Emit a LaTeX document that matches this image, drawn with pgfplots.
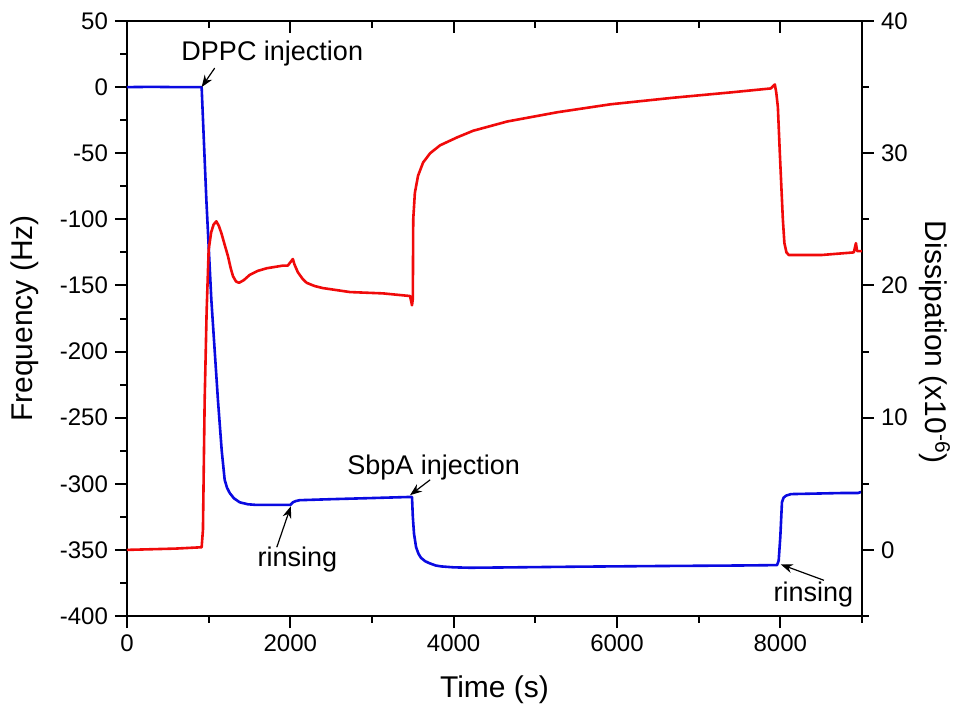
\documentclass[border=0pt]{standalone}
\usepackage{fontspec}
\setmainfont{Liberation Sans}
\usepackage{pgfplots}
\pgfplotsset{compat=1.18}
\usetikzlibrary{arrows.meta}
\definecolor{qblue}{RGB}{10,10,225}
\definecolor{qred}{RGB}{240,10,10}
\pgfplotsset{
  common/.style={
    width=367.5pt, height=297.5pt, scale only axis,
    at={(0,0)}, anchor=south west,
    xmin=0, xmax=9000,
    xtick={0,2000,4000,6000,8000},
    minor xtick={1000,3000,5000,7000,9000},
    tick label style={font=\fontsize{12}{14}\selectfont},
    /pgf/number format/assume math mode=true,
    /pgf/number format/1000 sep={},
    major tick length=6pt, minor tick length=3.3pt,
    tick style={black, line width=1pt},
    axis line style={line width=1.1pt},
    clip=false,
  }
}
\begin{document}
\begin{tikzpicture}
% left axis: frequency (blue)
\begin{axis}[common,
  axis x line*=bottom, axis y line*=left, tick align=outside,
  ymin=-400, ymax=50, ytick={-400,-350,...,50}, minor y tick num=1,
  xlabel={Time (s)}, ylabel={Frequency (Hz)},
  every axis x label/.style={at={(axis description cs:0.5,-0.124)}, anchor=center, font=\fontsize{15}{18}\selectfont},
  every axis y label/.style={at={(axis description cs:-0.139,0.5)}, rotate=90, anchor=center, font=\fontsize{15}{18}\selectfont},
]
\addplot[qblue, line width=1.3pt, line join=round] coordinates {
(0,0) (300,0.2) (600,0) (914,0) (943,-43) (972,-85.6) (1033,-161) (1114,-237)
(1160,-275) (1196,-297) (1225,-303) (1258,-307) (1310,-311) (1380,-314) (1480,-315.5) (1589,-316) (1957,-316) (2000,-316)
(2031,-314) (2070,-313) (2117,-312.4) (2524,-311.6) (2938,-310.9) (3442,-310) (3490,-310)
(3500,-325) (3515,-338) (3540,-348) (3570,-353) (3600,-356) (3650,-358.5) (3700,-360) (3780,-361.8) (3850,-362.5) (4000,-363.2) (4200,-363.5)
(4571,-363.3) (5500,-362.7) (6500,-362.2) (7500,-361.8) (7960,-361.5) (7980,-358)
(8000,-340) (8020,-314) (8040,-310.5) (8070,-309) (8129,-307.8) (8742,-307) (8950,-307) (9000,-306)
};
\tikzset{ann/.style={font=\fontsize{13.5}{16}\selectfont, inner sep=0pt},
         arr/.style={-{Stealth[length=6pt,width=4.5pt]}, line width=0.6pt, black}}
\node[ann, anchor=base] at (axis cs:1779,20) {DPPC injection};
\draw[arr] (axis cs:1074,14.4) -- (axis cs:914,0);
\node[ann, anchor=base] at (axis cs:2086,-362.3) {rinsing};
\draw[arr] (axis cs:1834,-348) -- (axis cs:2006,-317);
\node[ann, anchor=base] at (axis cs:3755,-292.7) {SbpA injection};
\draw[arr] (axis cs:3712,-297) -- (axis cs:3466,-308.6);
\node[ann, anchor=base] at (axis cs:8405,-389.3) {rinsing};
\draw[arr] (axis cs:8534,-373) -- (axis cs:8006,-361);
\end{axis}
% right axis: dissipation (red)
\begin{axis}[common,
  axis x line=none, axis y line*=right, tick align=outside,
  ymin=-5, ymax=40, ytick={0,10,20,30,40}, minor ytick={-5,5,15,25,35},
  ylabel={Dissipation (x10\textsuperscript{-6})},
  every axis y label/.style={at={(axis description cs:1.0986,0.46)}, rotate=-90, anchor=center, font=\fontsize{15}{18}\selectfont},
]
\addplot[qred, line width=1.3pt, line join=round] coordinates {
(0,0.0) (300,0.05) (600,0.1) (914,0.2) (930,1.5) (951,11.3) (975,18) (1000,22.7)
(1030,24.0) (1060,24.6) (1094,24.85) (1125,24.5) (1156,23.95) (1195,23.1) (1237,22.2) (1270,21.3) (1298,20.7) (1335,20.3) (1372,20.2) (1430,20.4)
(1503,20.8) (1600,21.1) (1711,21.3) (1908,21.5) (1969,21.5) (2031,22.0) (2050,21.6)
(2092,21.0) (2150,20.5) (2200,20.2) (2300,19.95) (2400,19.8) (2730,19.5) (3135,19.4)
(3466,19.2) (3490,18.5) (3500,19.0) (3505,25.0) (3525,27.0) (3564,28.3) (3626,29.3)
(3712,30.0) (3834,30.6) (4043,31.2) (4239,31.7) (4656,32.4) (5270,33.1) (5920,33.7)
(6693,34.2) (7393,34.6) (7883,34.9) (7933,35.2) (7950,34.6) (7970,33.5) (7994,30)
(8031,25.0) (8050,23.2) (8075,22.5) (8104,22.3) (8500,22.3) (8900,22.5) (8926,23.2)
(8940,22.6) (9000,22.6)
};
\end{axis}
% top axis: inward ticks
\begin{axis}[common,
  axis x line*=top, axis y line=none, tick align=inside,
  xticklabels={}, ymin=-5, ymax=40,
]
\end{axis}
\pgfresetboundingbox
\path (-63.5pt,-46.5pt) rectangle (416pt,308pt);
\end{tikzpicture}
\end{document}
